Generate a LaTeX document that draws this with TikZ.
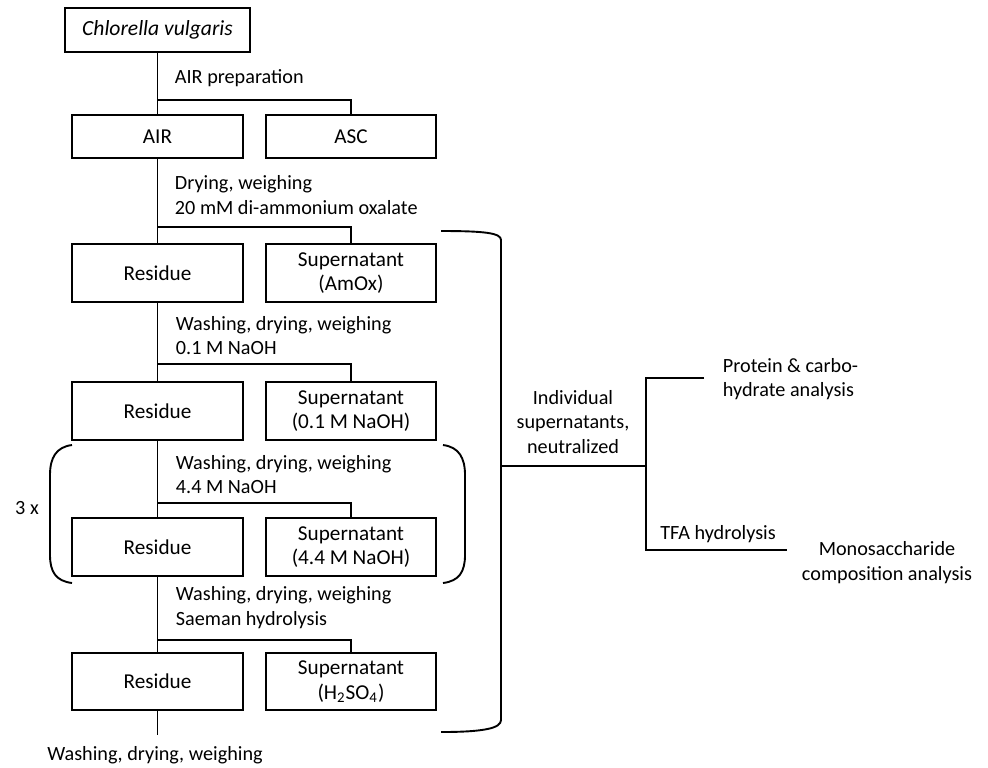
\documentclass[tikz,border=0pt]{standalone}
\usepackage{fontspec}
\setmainfont{Carlito}
\begin{document}
\begin{tikzpicture}[x=0.5pt,y=-0.5pt,
  line width=0.95pt,
  box/.style={draw,rectangle,inner sep=0pt,minimum height=29pt,align=center,font=\fontsize{10.6}{12.4}\selectfont},
  lbl/.style={inner sep=0pt,align=left,font=\fontsize{10.1}{12.2}\selectfont},
  clbl/.style={inner sep=0pt,align=center,font=\fontsize{10.1}{12.2}\selectfont}]
\useasboundingbox (0,0) rectangle (988,767);
% boxes
\node[box,minimum width=92.5pt,minimum height=22pt,font=\fontsize{10.8}{12}\selectfont] (chl) at (157.5,30) {\itshape Chlorella vulgaris};
\node[box,minimum width=85.5pt,minimum height=21.5pt] (air) at (157.5,136.5) {AIR};
\node[box,minimum width=85pt,minimum height=21.5pt] (asc) at (351,136.5) {ASC};
\node[box,minimum width=85.5pt] (r1) at (157.5,273) {Residue};
\node[box,minimum width=85pt] (s1) at (351,273) {Supernatant\\(AmOx)};
\node[box,minimum width=85.5pt] (r2) at (157.5,411) {Residue};
\node[box,minimum width=85pt] (s2) at (351,411) {Supernatant\\(0.1 M NaOH)};
\node[box,minimum width=85.5pt] (r3) at (157.5,547) {Residue};
\node[box,minimum width=85pt] (s3) at (351,547) {Supernatant\\(4.4 M NaOH)};
\node[box,minimum width=85.5pt,minimum height=28.5pt] (r4) at (157.5,681.5) {Residue};
\node[box,minimum width=85pt,minimum height=28.5pt] (s4) at (351,681.5) {Supernatant\\(H\textsubscript{2}SO\textsubscript{4})};
% step labels
\node[lbl,anchor=west] (t1) at (174,78) {AIR preparation};
\node[lbl,anchor=west] (t2) at (174,195) {Drying, weighing\\20 mM di-ammonium oxalate};
\node[lbl,anchor=west] (t3) at (175,335.5) {Washing, drying, weighing\\0.1 M NaOH};
\node[lbl,anchor=west] (t4) at (175,474.5) {Washing, drying, weighing\\4.4 M NaOH};
\node[lbl,anchor=west] (t5) at (175,607.5) {Washing, drying, weighing\\Saeman hydrolysis};
\node[lbl] (t6) at (155,755) {Washing, drying, weighing};
\node[lbl] (rep) at (27,508) {3 x};
% junctions
\coordinate (j1) at (157.5,100);
\coordinate (j2) at (157.5,227);
\coordinate (j3) at (157.5,364);
\coordinate (j4) at (157.5,503);
\coordinate (j5) at (157.5,640);
\coordinate (endp) at (157.5,735);
\draw (chl.south) -- (air.north);
\draw (j1) -| (asc.north);
\draw (air.south) -- (r1.north);
\draw (j2) -| (s1.north);
\draw (r1.south) -- (r2.north);
\draw (j3) -| (s2.north);
\draw (r2.south) -- (r3.north);
\draw (j4) -| (s3.north);
\draw (r3.south) -- (r4.north);
\draw (j5) -| (s4.north);
\draw (r4.south) -- (endp);
% loop brackets
\draw (72,445) .. controls (56,447) and (50,458) .. (50,475) -- (50,555) .. controls (50,572) and (56,581) .. (72,583);
\draw (443,445) .. controls (459,447) and (465,458) .. (465,475) -- (465,555) .. controls (465,572) and (459,581) .. (443,583);
% big bracket
\draw (441,231) .. controls (485,231) and (501,233) .. (501,240) -- (501,720) .. controls (501,728) and (485,732) .. (441,732);
% right tree
\coordinate (b0) at (501,466);
\coordinate (b1) at (646,466);
\coordinate (b2) at (646,378);
\coordinate (b3) at (646,550);
\coordinate (e1) at (704,378);
\coordinate (e2) at (787,550);
\draw (b0) -- (b1);
\draw (e1) -- (b2) -- (b3) -- (e2);
\node[clbl] (ind) at (573,422) {Individual\\supernatants,\\neutralized};
\node[lbl,anchor=west] (prot) at (722,379) {Protein \& carbo-\\hydrate analysis};
\node[lbl] (tfa) at (718,534) {TFA hydrolysis};
\node[clbl] (mono) at (887,562.5) {Monosaccharide\\composition analysis};
\end{tikzpicture}
\end{document}
